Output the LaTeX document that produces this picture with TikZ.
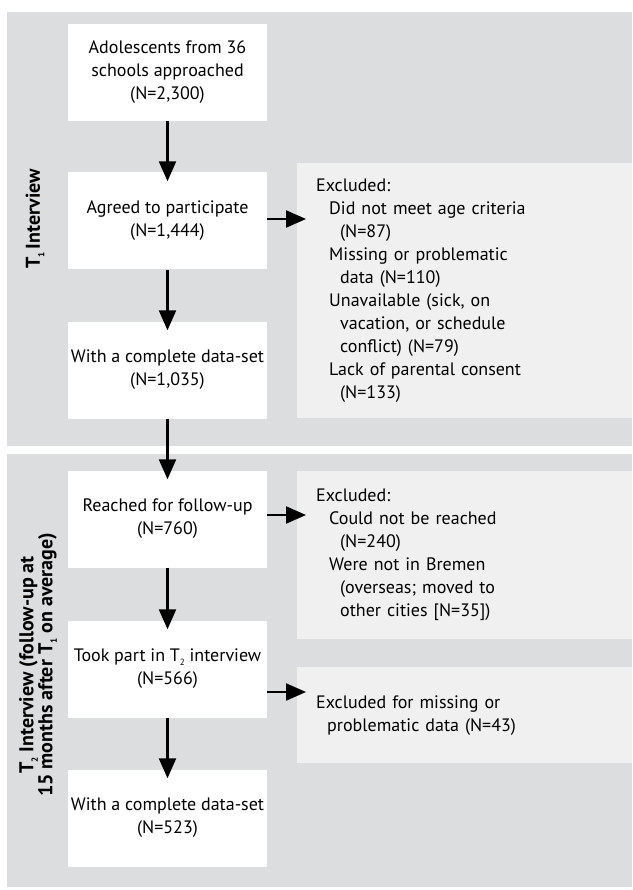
\documentclass[tikz,border=0pt]{standalone}
\usepackage{fontspec}
\setmainfont{PT Sans}
\usepackage{tikz}
\usetikzlibrary{calc,arrows.meta}
\definecolor{panelgray}{RGB}{220,221,223}
\definecolor{exclgray}{RGB}{240,240,240}
\newcommand{\lowsub}[1]{\raisebox{-0.45ex}{\small #1}}

\begin{document}
\begin{tikzpicture}[x=1pt,y=-1pt,
    stagebox/.style={fill=white, minimum width=199pt, minimum height=97pt, inner sep=0pt,
        align=center, font=\fontsize{18}{23}\selectfont},
    exclbox/.style={fill=exclgray, anchor=north west, inner xsep=19pt, inner ysep=0pt,
        text width=297pt, align=left, font=\fontsize{18}{23}\selectfont},
    sidelabel/.style={rotate=90, align=center, font=\bfseries\fontsize{20}{19}\selectfont},
    flow/.style={line width=2.2pt, -{Triangle[length=20pt,width=17pt]}, shorten >=-9pt}]
                \useasboundingbox (0,0) rectangle (632,890);
                \fill[panelgray] (7,12) rectangle (632,446);
                \fill[panelgray] (7,454) rectangle (632,887);

                \node[stagebox] (b1) at (167.5,72.5) {Adolescents from 36\\schools approached\\(N=2,300)};
                \node[stagebox] (b2) at (167.5,221) {Agreed to participate\\(N=1,444)};
                \node[stagebox] (b3) at (167.5,370) {With a complete data-set\\(N=1,035)};
                \node[stagebox] (b4) at (167.5,519) {Reached for follow-up\\(N=760)};
                \node[stagebox] (b5) at (167.5,669) {Took part in T\lowsub{2} interview\\(N=566)};
                \node[stagebox] (b6) at (167.5,818) {With a complete data-set\\(N=523)};

                \node[exclbox, minimum height=255pt] (e1) at (297,163) {Excluded:\\
                    \hspace*{13pt}Did not meet age criteria\\
                    \hspace*{24pt}(N=87)\\
                    \hspace*{13pt}Missing or problematic\\
                    \hspace*{24pt}data (N=110)\\
                    \hspace*{13pt}Unavailable (sick, on\\
                    \hspace*{24pt}vacation, or schedule\\
                    \hspace*{24pt}conflict) (N=79)\\
                    \hspace*{13pt}Lack of parental consent\\
                    \hspace*{24pt}(N=133)};
                \node[exclbox, minimum height=168pt] (e2) at (297,471) {Excluded:\\
                    \hspace*{13pt}Could not be reached\\
                    \hspace*{24pt}(N=240)\\
                    \hspace*{13pt}Were not in Bremen\\
                    \hspace*{24pt}(overseas; moved to\\
                    \hspace*{24pt}other cities [N=35])};
                \node[exclbox, minimum height=96pt] (e3) at (297,667) {Excluded for missing or\\
                    \hspace*{11pt}problematic data (N=43)};

                \node[sidelabel] (t1) at (35,219) {T\lowsub{1}\,Interview};
                \node[sidelabel] (t2) at (38,665) {T\lowsub{2} Interview (follow-up at\\15 months after T\lowsub{1} on average)};

                \draw[flow] (b1) -- (b2);
                \draw[flow] (b2) -- (b3);
                \draw[flow] (b3) -- (b4);
                \draw[flow] (b4) -- (b5);
                \draw[flow] (b5) -- (b6);
                \draw[flow] ([yshift=2pt]b2.east) -- ([yshift=2pt]b2.east -| e1.west);
                \draw[flow] ([yshift=4pt]b4.east) -- ([yshift=4pt]b4.east -| e2.west);
                \draw[flow] ([yshift=-23pt]b5.east) -- ([yshift=-23pt]b5.east -| e3.west);
                % \draw[flow] (b6.east) -- (b6.east -| e3.west);
\end{tikzpicture}
\end{document}
